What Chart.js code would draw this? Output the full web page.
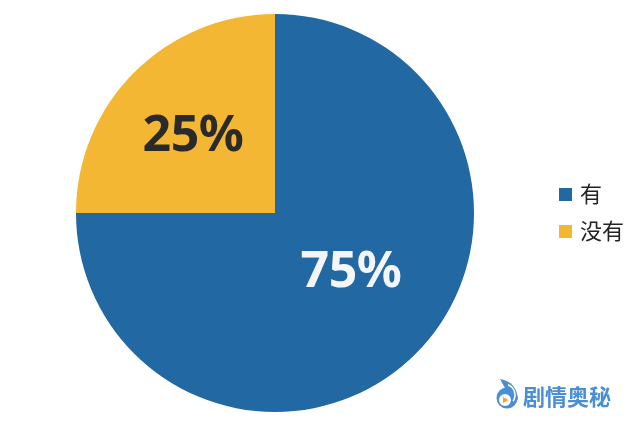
<!DOCTYPE html>
<html>
<head>
<meta charset="utf-8">
<style>
  html, body { margin: 0; padding: 0; background: #fff; }
  #wrap { width: 640px; height: 426px; position: relative; }
</style>
<script src="https://cdn.jsdelivr.net/npm/chart.js@4"></script>
</head>
<body>
<div id="wrap"><canvas id="pie" width="640" height="426"></canvas></div>
<script>
const categories = ['有', '没有'];
const shares = [75, 25];
const sliceColors = ['#2268a2', '#f3b733'];
const valueColors = ['#f3f5f8', '#2a2a2a'];
const watermark = '剧情奥秘';

// label spot relative to the pie centre, as a fraction of the radius
const labelSpots = [[0.382, 0.30], [-0.412, -0.382]];

const piecePlugin = {
  id: 'piecePlugin',
  afterDraw(chart) {
    const ctx = chart.ctx;
    const arcs = chart.getDatasetMeta(0).data;
    ctx.save();

    // percent labels
    ctx.font = 'bold 50px "Noto Sans"';
    ctx.letterSpacing = '-0.5px';
    ctx.textAlign = 'center';
    ctx.textBaseline = 'middle';
    arcs.forEach((arc, i) => {
      ctx.fillStyle = valueColors[i];
      ctx.fillText(shares[i] + '%',
        arc.x + labelSpots[i][0] * arc.outerRadius,
        arc.y + labelSpots[i][1] * arc.outerRadius);
    });
    ctx.letterSpacing = '0px';

    // legend
    ctx.font = '22px "Noto Sans CJK SC"';
    ctx.textAlign = 'left';
    categories.forEach((name, i) => {
      const y = 194.5 + i * 37;
      ctx.fillStyle = sliceColors[i];
      ctx.fillRect(559, y - 6.5, 13, 13);
      ctx.fillStyle = '#222';
      ctx.fillText(name, 580, y - 1);
    });

    // watermark
    ctx.font = 'bold 22px "Noto Sans CJK SC"';
    ctx.fillStyle = '#4a8fd6';
    ctx.fillText(watermark, 523, 397);

    // logo swirl
    ctx.beginPath();
    ctx.arc(507, 398, 10.5, 0, Math.PI * 2);
    ctx.fill();
    ctx.beginPath();
    ctx.moveTo(500, 379);
    ctx.quadraticCurveTo(517, 382, 518, 400);
    ctx.lineTo(506, 390);
    ctx.closePath();
    ctx.fill();
    ctx.strokeStyle = '#fff';
    ctx.lineWidth = 1.5;
    ctx.beginPath();
    ctx.arc(504, 395, 11, -1.2, 0.6);
    ctx.stroke();
    ctx.fillStyle = '#fff';
    ctx.beginPath();
    ctx.arc(505, 400, 6, 0, Math.PI * 2);
    ctx.fill();
    ctx.fillStyle = '#f2a23a';
    ctx.beginPath();
    ctx.moveTo(503, 397);
    ctx.lineTo(508.5, 400);
    ctx.lineTo(503, 403);
    ctx.closePath();
    ctx.fill();
    ctx.restore();
  }
};

new Chart(document.getElementById('pie'), {
  type: 'pie',
  data: {
    labels: categories,
    datasets: [{
      data: shares,
      backgroundColor: sliceColors,
      borderWidth: 0
    }]
  },
  options: {
    responsive: false,
    animation: false,
    layout: { padding: { left: 76, right: 166, top: 14, bottom: 14 } },
    plugins: {
      legend: { display: false },
      tooltip: { enabled: false }
    }
  },
  plugins: [piecePlugin]
});
</script>
</body>
</html>
